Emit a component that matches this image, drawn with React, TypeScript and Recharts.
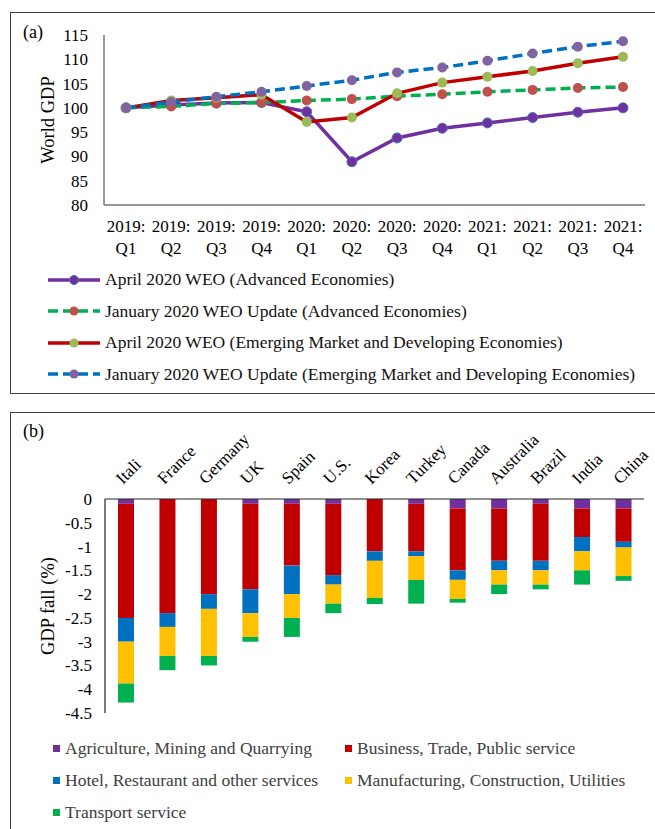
import React from 'react'
import {
  LineChart, Line, BarChart, Bar, XAxis, YAxis,
} from 'recharts'

const periods = ['2019:Q1', '2019:Q2', '2019:Q3', '2019:Q4', '2020:Q1', '2020:Q2', '2020:Q3', '2020:Q4', '2021:Q1', '2021:Q2', '2021:Q3', '2021:Q4']
const aprilAdv  = [100, 100.6, 101, 101.1, 99.2, 88.9, 93.8, 95.8, 96.9, 98.0, 99.1, 100.0]
const janAdv    = [100, 100.3, 100.9, 101.1, 101.5, 101.8, 102.4, 102.8, 103.3, 103.7, 104.1, 104.3]
const aprilEmde = [100, 101.5, 102.1, 102.7, 97.1, 98.0, 103.0, 105.2, 106.4, 107.6, 109.2, 110.5]
const janEmde   = [100, 101.2, 102.3, 103.3, 104.5, 105.7, 107.3, 108.3, 109.7, 111.2, 112.6, 113.7]
const gdpTicks  = [80, 85, 90, 95, 100, 105, 110, 115]

const countries = ['Itali', 'France', 'Germany', 'UK', 'Spain', 'U.S.', 'Korea', 'Turkey', 'Canada', 'Australia', 'Brazil', 'India', 'China']
const agri      = [-0.1, 0, 0, -0.1, -0.1, -0.1, 0, -0.1, -0.2, -0.2, -0.1, -0.2, -0.2]
const business  = [-2.4, -2.4, -2.0, -1.8, -1.3, -1.5, -1.1, -1.0, -1.3, -1.1, -1.2, -0.6, -0.7]
const hotel     = [-0.5, -0.29, -0.31, -0.5, -0.6, -0.2, -0.2, -0.1, -0.2, -0.2, -0.2, -0.3, -0.12]
const manuf     = [-0.88, -0.61, -0.99, -0.5, -0.5, -0.4, -0.78, -0.5, -0.4, -0.3, -0.3, -0.4, -0.6]
const transport = [-0.4, -0.3, -0.2, -0.1, -0.4, -0.2, -0.13, -0.5, -0.08, -0.2, -0.1, -0.3, -0.1]
const fallTicks = [0, -0.5, -1, -1.5, -2, -2.5, -3, -3.5, -4, -4.5]

const FONT = '"Liberation Serif", "Times New Roman", serif'

const lineSeries = [
  { key: 'aprilAdv',  name: 'April 2020 WEO (Advanced Economies)', color: '#7030A0', dot: '#7030A0', dotStroke: '#4472C4', dash: undefined },
  { key: 'janAdv',    name: 'January 2020 WEO Update (Advanced Economies)', color: '#00B050', dot: '#C0504D', dotStroke: 'none', dash: '10 5' },
  { key: 'aprilEmde', name: 'April 2020 WEO (Emerging Market and Developing Economies)', color: '#C00000', dot: '#9BBB59', dotStroke: 'none', dash: undefined },
  { key: 'janEmde',   name: 'January 2020 WEO Update (Emerging Market and Developing Economies)', color: '#0070C0', dot: '#8064A2', dotStroke: 'none', dash: '10 5' },
]

const barSeries = [
  { key: 'agri',      name: 'Agriculture, Mining and Quarrying',      color: '#7030A0' },
  { key: 'business',  name: 'Business, Trade, Public service',        color: '#C00000' },
  { key: 'hotel',     name: 'Hotel, Restaurant and other services',   color: '#0070C0' },
  { key: 'manuf',     name: 'Manufacturing, Construction, Utilities', color: '#FFC000' },
  { key: 'transport', name: 'Transport service',                      color: '#00B050' },
]

const lineData = periods.map((p, i) => ({
  period: p, aprilAdv: aprilAdv[i], janAdv: janAdv[i], aprilEmde: aprilEmde[i], janEmde: janEmde[i],
}))

const barData = countries.map((c, i) => ({
  country: c, agri: agri[i], business: business[i], hotel: hotel[i], manuf: manuf[i], transport: transport[i],
}))

function PeriodTick({ x, y, payload }: any) {
  const [yr, q] = String(payload.value).split(':')
  return (
    <text x={x} y={y} textAnchor="middle" fontFamily={FONT} fontSize={17} fill="#000">
      <tspan x={x} dy={25}>{yr}:</tspan>
      <tspan x={x} dy={22}>{q}</tspan>
    </text>
  )
}

function CountryTick({ x, y, payload }: any) {
  const tx = x - 3
  const ty = y - 12
  return (
    <text x={tx} y={ty} textAnchor="start" fontFamily={FONT} fontSize={17} fill="#000"
      transform={`rotate(-45 ${tx} ${ty})`}>
      {payload.value}
    </text>
  )
}

const panel: React.CSSProperties = {
  position: 'absolute', left: 10, border: '1.5px solid #404040', boxSizing: 'border-box',
}

export default function App() {
  return (
    <div style={{ position: 'absolute', left: 0, top: 0, width: 655, height: 829, overflow: 'hidden', background: '#fff', fontFamily: FONT }}>
      <div style={{ ...panel, top: 12, width: 660, height: 382 }} />
      <div style={{ ...panel, top: 412, width: 660, height: 430 }} />

      <div style={{ position: 'absolute', left: 23, top: 22, fontSize: 18 }}>(a)</div>
      <div style={{ position: 'absolute', left: 23, top: 421, fontSize: 18 }}>(b)</div>

      <div style={{ position: 'absolute', left: 0, top: 0 }}>
        <LineChart width={655} height={260} data={lineData} margin={{ top: 35, right: 10, bottom: 0, left: 0 }}>
          <XAxis dataKey="period" tick={<PeriodTick />} tickLine={false} tickSize={0} height={55}
            interval={0} padding={{ left: 22, right: 22 }} stroke="#777" strokeWidth={1.5} />
          <YAxis domain={[80, 115]} ticks={gdpTicks} interval={0} width={104} tickLine={false} tickSize={0} tickMargin={16}
            stroke="#777" strokeWidth={1.5}
            tick={{ fill: '#000', fontSize: 17, fontFamily: FONT }}
            label={{ value: 'World GDP', angle: -90, position: 'insideLeft', dx: 42, style: { textAnchor: 'middle', fontSize: 18.5, fontFamily: FONT, fill: '#000' } }} />
          {lineSeries.map(s => (
            <Line key={s.key} dataKey={s.key} name={s.name} type="linear" stroke={s.color} strokeWidth={3.5}
              strokeDasharray={s.dash} isAnimationActive={false}
              dot={{ r: 5, fill: s.dot, stroke: s.dotStroke, strokeWidth: 1, strokeDasharray: '' }} activeDot={false} />
          ))}
        </LineChart>
      </div>

      <div style={{ position: 'absolute', left: 47, top: 264, fontSize: 17.5, color: '#111' }}>
        {lineSeries.map(s => (
          <div key={s.key} style={{ display: 'flex', alignItems: 'center', height: 31.5, whiteSpace: 'nowrap' }}>
            <svg width={58} height={12} style={{ flex: 'none' }}>
              <line x1={1} y1={6} x2={53} y2={6} stroke={s.color} strokeWidth={3.5} strokeDasharray={s.dash} />
              <circle cx={27} cy={6} r={4.5} fill={s.dot} stroke={s.dotStroke} strokeWidth={1} />
            </svg>
            <span>{s.name}</span>
          </div>
        ))}
      </div>

      <div style={{ position: 'absolute', left: 0, top: 413 }}>
        <BarChart width={655} height={312} data={barData} margin={{ top: 0, right: 11, bottom: 12, left: 0 }}>
          <XAxis dataKey="country" orientation="top" height={86} tick={<CountryTick />} tickLine={false}
            tickSize={0} interval={0} stroke="#222" strokeWidth={1.2} />
          <YAxis domain={[-4.5, 0]} ticks={fallTicks} interval={0} width={105} tickLine={false} tickSize={0} tickMargin={13}
            stroke="#222" strokeWidth={1.2}
            tick={{ fill: '#000', fontSize: 17, fontFamily: FONT }}
            label={{ value: 'GDP fall (%)', angle: -90, position: 'insideLeft', dx: 42, style: { textAnchor: 'middle', fontSize: 18.5, fontFamily: FONT, fill: '#000' } }} />
          {barSeries.map(s => (
            <Bar key={s.key} dataKey={s.key} name={s.name} stackId="gdp" fill={s.color} barSize={16} isAnimationActive={false} />
          ))}
        </BarChart>
      </div>

      <div style={{ position: 'absolute', left: 53, top: 732, fontSize: 17.5, color: '#404040' }}>
        {[0, 2, 4].map(row => (
          <div key={row} style={{ display: 'flex', height: 32, alignItems: 'center', whiteSpace: 'nowrap' }}>
            {barSeries.slice(row, row + 2).map(s => (
              <div key={s.key} style={{ display: 'flex', alignItems: 'center', width: 292, flex: 'none' }}>
                <span style={{ display: 'inline-block', flex: 'none', width: 7, height: 7, background: s.color, marginRight: 5 }} />
                <span>{s.name}</span>
              </div>
            ))}
          </div>
        ))}
      </div>
    </div>
  )
}
